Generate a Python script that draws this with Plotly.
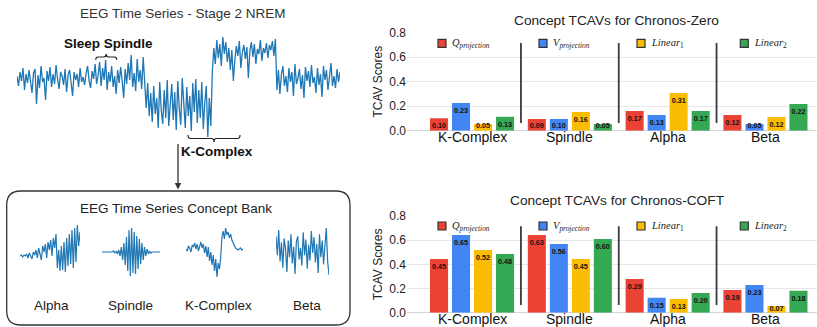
import plotly.graph_objects as go

W, H = 817, 327

# ---------------- data ----------------
categories = ["K-Complex", "Spindle", "Alpha", "Beta"]
series_names = ["Q_projection", "V_projection", "Linear_1", "Linear_2"]
series_colors = ["#EA4335", "#4285F4", "#FBBC04", "#34A853"]

# Chronos-Zero: bar heights and printed labels
zero_q = [0.101, 0.095, 0.161, 0.128]
zero_v = [0.226, 0.095, 0.128, 0.055]
zero_l1 = [0.055, 0.153, 0.308, 0.112]
zero_l2 = [0.114, 0.055, 0.161, 0.218]
zero_q_lbl = ["0.10", "0.09", "0.17", "0.12"]
zero_v_lbl = ["0.23", "0.10", "0.13", "0.05"]
zero_l1_lbl = ["0.05", "0.16", "0.31", "0.12"]
zero_l2_lbl = ["0.13", "0.05", "0.17", "0.22"]

# Chronos-COFT
coft_q = [0.444, 0.643, 0.279, 0.188]
coft_v = [0.643, 0.568, 0.124, 0.229]
coft_l1 = [0.519, 0.444, 0.113, 0.055]
coft_l2 = [0.486, 0.610, 0.163, 0.182]
coft_q_lbl = ["0.45", "0.63", "0.29", "0.19"]
coft_v_lbl = ["0.65", "0.56", "0.15", "0.23"]
coft_l1_lbl = ["0.52", "0.45", "0.13", "0.07"]
coft_l2_lbl = ["0.48", "0.60", "0.20", "0.18"]

y_ticks = [0.0, 0.2, 0.4, 0.6, 0.8]

# EEG stage-2 NREM trace (hand-read amplitudes)
eeg_baseline_1 = [2, -8, 6, -3, 10, -12, 4, -5, 8, -2, -15, 5, 9, -26, 3, -10, 12, -4, 0, -22,
                  7, -3, 11, -9, 4, -6, 13, -1, -11, 6, 2, -7, 9, -14, 3, 8, -5, -18, 6, -2,
                  4, -9, 10, -4, 1, -7, 5, 12, -3, -10, 7, -1, 14, -6, 3, 16, -8, 10, -2, 18,
                  -12, 6, -4, 12, -9, 2, -16, 8, -5, 11, -3, -20, 9, -6, 15, -2, 23, -9, 5, -13,
                  19, -4, 8, -11, 21]
eeg_kcomplex_low = [-10, -30, -5, -38, -15, -44, -8, -36, -20, -50, -4, -32, -46, -12, -40, -2, -48, -22, -6, -42,
                    -14, -52, -3, -30, -47, 0, -26, -50, -9, -38, -18, -53, -5, -34, -1, -45, -12, -40, -4, -51,
                    -24, -8, -59, -20, -48]
eeg_kcomplex_high = [5, 30, 14, 38, 20, 34, 12, 41, 24, 36, 16, 30, 8, 28, -3, 18, 32, 22, 37, 10,
                     26, 33, 19, 31, 0, 27, 36, 21, 34, 14, 29, 24, 38, 17, 30, 25, 35, 20, 33, 28,
                     37, 22, 39]
eeg_baseline_2 = [-12, 8, -16, 4, 12, -8, 2, -14, 10, -4, 6, -18, 14, -6, 0, 9, -11, 3, -20, 11,
                  -3, 7, -9, 13, -5, 1, -15, 10, -7, 4, -19, 12, -2, 8, -12, 5, 15, -8, 2, -10,
                  9, -4, 6]

# concept bank examples
bank_alpha = [0, 1, -1, 1, 0, 2, -2, 3, 0, -3, 4, 1, 6, -2, 8, 2, -4, 10, 4, 12, -2, 14, 6, 16, 0,
              18, 8, 22, -12, 6, -15, 10, -14, 14, -16, 18, -10, 22, -8, 26, -12, 28, -6, 31, 10, 24]
bank_spindle = [0, 0, 0, 0, 0, 0, 0, 0, 0, 1, -1, 1, -2, 2, -4, 5, -8, 9, -13, 15, -19, 22, -24, 24,
                -21, 20, -22, 16, -17, 13, -12, 9, -8, 5, -4, 3, -2, 1, -1, 0, 0, 0, 0, 0, 0, 0]
bank_kcomplex = [0, -2, 3, 1, -3, 4, 2, 6, 0, 5, -2, 4, 7, 1, 5, -4, 3, -8, 2, -12, -3, -16, -6, -22,
                 -10, -28, -14, -20, -8, 12, 18, 10, 21, 14, 17, 11, 15, 9, 6, 4, 1, 0, -1, 0, 1, -1, 0]
bank_beta = [14, -4, 20, -10, 8, -16, 12, 2, -20, 10, -6, 16, -12, 4, -22, 9, 14, -8, 3, -14,
             18, -4, 11, -17, 6, -9, 19, -2, 13, -11, 7, -21, 16, -6, 10, -13, 5, 22, -10, -23]
bank_labels = ["Alpha", "Spindle", "K-Complex", "Beta"]

# ---------------- helpers ----------------
def fx(x):
    return x / W

def fy(y):
    return 1 - y / H

def P(x, y):
    return f"{fx(x):.5f},{fy(y):.5f}"

FONT = "Liberation Sans, Arial, sans-serif"
SERIF = "Liberation Serif, Times New Roman, serif"
TXT = "#222222"
LINE_BLUE = "#1f77b4"
LABEL_FLOOR = 0.10  # value labels never sink below this level

fig = go.Figure()

# ---------------- bar charts ----------------
charts = [
    ("x", "y", [zero_q, zero_v, zero_l1, zero_l2],
     [zero_q_lbl, zero_v_lbl, zero_l1_lbl, zero_l2_lbl]),
    ("x2", "y2", [coft_q, coft_v, coft_l1, coft_l2],
     [coft_q_lbl, coft_v_lbl, coft_l1_lbl, coft_l2_lbl]),
]
for c, (xa, ya, vals, lbls) in enumerate(charts):
    for k, (name, col, v) in enumerate(zip(series_names, series_colors, vals)):
        fig.add_trace(go.Bar(
            x=categories, y=v, name=name,
            marker=dict(color=col, line=dict(width=0)),
            offsetgroup=f"c{c}s{k}", alignmentgroup=f"c{c}",
            xaxis=xa, yaxis=ya, showlegend=False, cliponaxis=False,
        ))
    # value labels, in the same slots as the bars
    for k, (name, v, l) in enumerate(zip(series_names, vals, lbls)):
        fig.add_trace(go.Bar(
            x=categories, y=[max(h, LABEL_FLOOR) for h in v], text=l, name=name + " label",
            texttemplate="<b>%{text}</b>",
            textposition="inside", insidetextanchor="end", constraintext="none",
            textangle=0,
            textfont=dict(size=7.2, color="#111111", family=FONT),
            marker=dict(color="rgba(0,0,0,0)", line=dict(width=0)),
            offsetgroup=f"c{c}s{k}", alignmentgroup=f"c{c}",
            xaxis=xa, yaxis=ya, showlegend=False, cliponaxis=False, hoverinfo="skip",
        ))

# ---------------- EEG traces ----------------
eeg_main = eeg_baseline_1 + eeg_kcomplex_low + eeg_kcomplex_high + eeg_baseline_2
signals = [
    (eeg_main, (17, 340), (37, 137), 1.3),
    (bank_alpha, (20, 80), (225, 272), 1.2),
    (bank_spindle, (102, 160), (228, 276), 1.2),
    (bank_kcomplex, (186, 243), (228, 277), 1.2),
    (bank_beta, (276, 329), (228, 275), 1.2),
]
axes_layout = {}
for i, (sig, (xl, xr), (yt, yb), lw) in enumerate(signals):
    n = i + 3
    fig.add_trace(go.Scatter(
        x=list(range(len(sig))), y=sig, mode="lines",
        line=dict(color=LINE_BLUE, width=lw),
        xaxis=f"x{n}", yaxis=f"y{n}", showlegend=False, hoverinfo="skip",
    ))
    axes_layout[f"xaxis{n}"] = dict(domain=[fx(xl), fx(xr)], anchor=f"y{n}", visible=False,
                                     range=[0, len(sig) - 1], fixedrange=True)
    axes_layout[f"yaxis{n}"] = dict(domain=[fy(yb), fy(yt)], anchor=f"x{n}", visible=False,
                                     range=[min(sig), max(sig)], fixedrange=True)

# ---------------- axes for bar charts ----------------
def xax(anchor):
    return dict(domain=[fx(407), 1.0], anchor=anchor, range=[-0.665, 3.527],
                type="category", categoryarray=categories,
                showgrid=False, zeroline=False, showline=False, ticks="",
                showticklabels=False, automargin=False)

def yax(anchor, top_px, bot_px):
    return dict(domain=[fy(bot_px), fy(top_px)], anchor=anchor, range=[0, 0.8],
                tickvals=y_ticks, ticktext=[f"{t:.1f}" for t in y_ticks],
                showgrid=True, gridcolor="#e6e6e6", gridwidth=1,
                zeroline=True, zerolinecolor="#d6d6d6", zerolinewidth=1,
                showline=False, ticks="",
                tickfont=dict(size=12, color="#222222", family=FONT),
                title=dict(text="TCAV Scores", font=dict(size=12, color="#222222", family=FONT),
                           standoff=4),
                automargin=False)

fig.update_layout(
    xaxis=xax("y"), yaxis=yax("x", 32.7, 130.7),
    xaxis2=xax("y2"), yaxis2=yax("x2", 216, 312.7),
    **axes_layout,
)

annotations = []
# category labels under each chart
for xa, label_y in [("x", 137), ("x2", 319)]:
    for cat in categories:
        annotations.append(dict(xref=xa, yref="paper", x=cat, y=fy(label_y), text=cat,
                                showarrow=False, xanchor="center", yanchor="middle",
                                font=dict(size=14, color="#111111", family=FONT)))

# ---------------- shapes ----------------
shapes = []
# separators between concept groups
for xa, ya in [("x", "y"), ("x2", "y2")]:
    for i in range(1, len(categories)):
        shapes.append(dict(type="line", xref=xa, yref=ya, x0=i - 0.5, x1=i - 0.5,
                           y0=0.063, y1=0.716, line=dict(color="#3a3a3a", width=1.8)))

# manual legends
leg_x = [442, 543, 641, 744.3]
leg_y = [43.3, 226]
leg_text = ["<i>Q</i><sub><i>projection</i></sub>", "<i>V</i><sub><i>projection</i></sub>",
            "<i>Linear</i><sub>1</sub>", "<i>Linear</i><sub>2</sub>"]
for ly in leg_y:
    for cx, col, t in zip(leg_x, series_colors, leg_text):
        shapes.append(dict(type="rect", xref="paper", yref="paper",
                           x0=fx(cx - 4), x1=fx(cx + 4), y0=fy(ly + 4), y1=fy(ly - 4),
                           fillcolor=col, line=dict(color="#333333", width=1.2)))
        annotations.append(dict(xref="paper", yref="paper", x=fx(cx + 8), y=fy(ly),
                                xanchor="left", yanchor="middle", showarrow=False, text=t,
                                font=dict(size=10.5, color="#222222", family=SERIF)))

# rounded concept-bank box
x0, y0, x1, y1, r = 6.7, 191, 350, 325, 14
box = (f"M {P(x0 + r, y0)} L {P(x1 - r, y0)} Q {P(x1, y0)} {P(x1, y0 + r)} "
       f"L {P(x1, y1 - r)} Q {P(x1, y1)} {P(x1 - r, y1)} L {P(x0 + r, y1)} "
       f"Q {P(x0, y1)} {P(x0, y1 - r)} L {P(x0, y0 + r)} Q {P(x0, y0)} {P(x0 + r, y0)} Z")
shapes.append(dict(type="path", xref="paper", yref="paper", path=box,
                   line=dict(color="#333333", width=1.3), fillcolor="rgba(0,0,0,0)"))

def brace(xa, xb, y_end, y_mid, y_tip):
    xc = (xa + xb) / 2
    rr = 2.5
    return (f"M {P(xa, y_end)} Q {P(xa, y_mid)} {P(xa + rr, y_mid)} L {P(xc - rr, y_mid)} "
            f"Q {P(xc, y_mid)} {P(xc, y_tip)} Q {P(xc, y_mid)} {P(xc + rr, y_mid)} "
            f"L {P(xb - rr, y_mid)} Q {P(xb, y_mid)} {P(xb, y_end)}")

shapes.append(dict(type="path", xref="paper", yref="paper", path=brace(95.7, 116.7, 59.8, 57, 54),
                   line=dict(color="#222222", width=1.2), fillcolor="rgba(0,0,0,0)"))
shapes.append(dict(type="path", xref="paper", yref="paper", path=brace(188, 240, 135, 138.5, 142),
                   line=dict(color="#222222", width=1.2), fillcolor="rgba(0,0,0,0)"))

# ---------------- text annotations ----------------
def txt(x, y, t, size=13.5, color=TXT, family=FONT):
    annotations.append(dict(xref="paper", yref="paper", x=fx(x), y=fy(y), text=t,
                            showarrow=False, xanchor="center", yanchor="middle",
                            font=dict(size=size, color=color, family=family)))

txt(616, 20, "Concept TCAVs for Chronos-Zero", 13.7)
txt(617.5, 200, "Concept TCAVs for Chronos-COFT", 13.7)
txt(183, 13, "EEG Time Series - Stage 2 NREM", 13.5, "#333333")
txt(108, 44, "<b>Sleep Spindle</b>", 13.5, "#111111")
txt(217, 152, "<b>K-Complex</b>", 13.5, "#111111")
txt(176, 208, "EEG Time Series Concept Bank", 13.5, "#222222")
for lx, lab in zip([51.7, 130, 218.3, 306.7], bank_labels):
    txt(lx, 305.7, lab, 13.5, "#222222")

# arrow from trace to concept bank
annotations.append(dict(xref="paper", yref="paper", x=fx(178), y=fy(189.5), ax=0, ay=-47,
                        text="", showarrow=True, arrowhead=2, arrowsize=1, arrowwidth=1.3,
                        arrowcolor="#333333", standoff=0))

fig.update_layout(
    width=W, height=H,
    margin=dict(l=0, r=0, t=0, b=0),
    paper_bgcolor="white", plot_bgcolor="white",
    barmode="group", bargap=0.1, bargroupgap=0.18,
    font=dict(family=FONT, color=TXT),
    shapes=shapes, annotations=annotations,
    showlegend=False,
)

fig.write_html(
    "out.html",
    config={"displayModeBar": False},
    post_script="document.body.style.margin='0';document.body.style.padding='0';"
                "document.documentElement.style.overflow='hidden';",
)
